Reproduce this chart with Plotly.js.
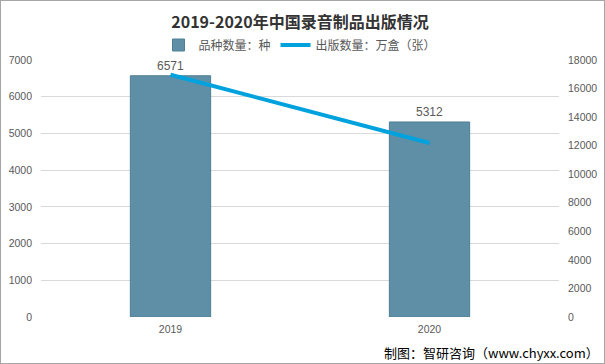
<!DOCTYPE html>
<html><head><meta charset="utf-8">
<script src="https://cdn.plot.ly/plotly-3.0.1.min.js"></script>
<style>
html,body{margin:0;padding:0;background:#fff;}
#wrap{position:relative;width:605px;height:364px;}
#chart{position:absolute;left:0;top:0;width:605px;height:364px;}
#frame{position:absolute;left:0;top:0;width:605px;height:364px;box-sizing:border-box;border:1px solid #a6a6a6;pointer-events:none;}
</style></head>
<body>
<div id="wrap"><div id="chart"></div><div id="frame"></div></div>
<script>
var years = ['2019', '2020'];
var varieties = [6571, 5312];          // 品种数量：种
var quantities = [16970, 12190];        // 出版数量：万盒（张）
var leftTicks = [0,1000,2000,3000,4000,5000,6000,7000];
var rightTicks = [0,2000,4000,6000,8000,10000,12000,14000,16000,18000];

var tickFont = {family:'Liberation Sans, Arial, sans-serif', size:10.5, color:'#595959'};
var cjk = 'Noto Sans CJK SC, Microsoft YaHei, sans-serif';

var traces = [
  {
    type:'bar', name:'品种数量：种', x:years, y:varieties,
    width:0.31,
    marker:{color:'#5F8FA6', line:{color:'#4F7E95', width:1}},
    text:varieties.map(String), textposition:'outside', cliponaxis:false,
    textfont:{family:tickFont.family, size:12, color:'#595959'},
    hoverinfo:'none'
  },
  {
    type:'scatter', mode:'lines', name:'出版数量：万盒（张）', x:years, y:quantities,
    yaxis:'y2',
    line:{color:'#00A2DE', width:4},
    hoverinfo:'none'
  }
];

var layout = {
  width:605, height:364,
  margin:{l:41, r:46, t:60, b:47},
  paper_bgcolor:'#fff', plot_bgcolor:'#fff',
  showlegend:true,
  title:{text:'2019-2020年中国录音制品出版情况', font:{family:cjk, size:16, color:'#333333', weight:'bold'},
         x:0.5, xanchor:'center', y:1-22/364, yanchor:'middle', xref:'paper'},
  legend:{orientation:'h', x:0.5, xanchor:'center', y:1+15/257, yanchor:'middle',
          font:{family:cjk, size:12, color:'#595959'}, itemwidth:30, traceorder:'normal'},
  xaxis:{type:'category', tickfont:tickFont, showgrid:false, showline:false, zeroline:false,
         ticks:'', ticklabelstandoff:4},
  yaxis:{range:[0,7000], tickvals:leftTicks, tickformat:'d', tickfont:tickFont, showgrid:true, gridcolor:'#D9D9D9',
         gridwidth:1, zeroline:false, showline:false, ticks:'', ticklabelstandoff:8},
  yaxis2:{range:[0,18000], tickvals:rightTicks, ticktext:rightTicks.map(String), tickfont:tickFont, overlaying:'y', side:'right',
          showgrid:false, zeroline:false, showline:false, ticks:'', ticklabelstandoff:8},
  annotations:[{
    text:'制图：智研咨询（www.chyxx.com）', xref:'paper', yref:'paper',
    x:(601-41)/518, xanchor:'right', y:-(352-317)/257, yanchor:'middle', showarrow:false,
    font:{family:cjk, size:13, color:'#000000'}
  }]
};

Plotly.newPlot('chart', traces, layout, {displayModeBar:false, staticPlot:true});
</script>
</body></html>
